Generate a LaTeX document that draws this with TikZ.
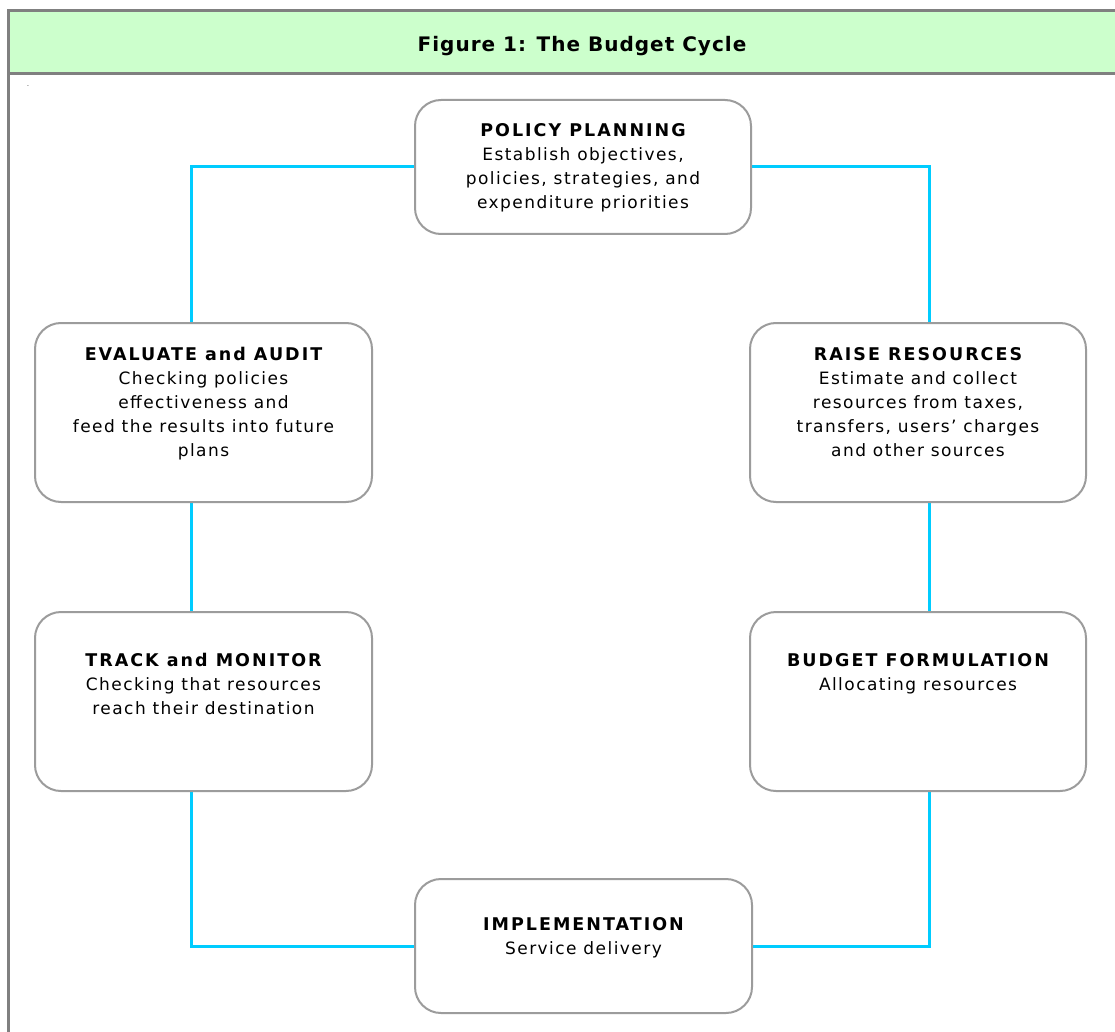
\documentclass[tikz,border=0pt]{standalone}
\usepackage{fontspec}
\setmainfont{DejaVu Sans}
\newfontfamily\boxbody[LetterSpace=8.5]{DejaVu Sans}
\newfontfamily\boxhead[LetterSpace=11.5]{DejaVu Sans}
\newfontfamily\titlefont[LetterSpace=5]{DejaVu Sans}
\newcommand{\hd}[1]{{\boxhead\bfseries\fontsize{17.5}{24}\selectfont #1}}
\usetikzlibrary{backgrounds}
\definecolor{hdrgreen}{HTML}{CCFFCC}
\definecolor{framegray}{HTML}{808080}
\definecolor{boxgray}{HTML}{9C9C9C}
\definecolor{linkcyan}{HTML}{00CCFF}
\tikzset{
  frameline/.style={draw=framegray, line width=3pt},
  stagebox/.style={draw=boxgray, line width=2pt, fill=white, rounded corners=26pt, inner sep=0pt},
  stagetext/.style={anchor=north, align=center, inner sep=0pt, font=\boxbody\fontsize{17}{24}\selectfont},
  link/.style={draw=linkcyan, line width=3pt},
}
\begin{document}
\begin{tikzpicture}[x=1pt,y=-1pt]
\useasboundingbox (0,0) rectangle (1115,1032);
\begin{pgfonlayer}{background}
\fill[white] (0,0) rectangle (1115,1032);
\end{pgfonlayer}
% header and frame
\fill[hdrgreen] (8,11) rectangle (1116,74);
\draw[frameline] (1117,11) -- (8,11) -- (8,1034);
\draw[frameline] (8,74) -- (1117,74);
\node[anchor=base, inner sep=0pt, font=\titlefont\bfseries\fontsize{20}{24}\selectfont] (title) at (582,52) {Figure 1: The Budget Cycle};
\node[inner sep=0pt, font=\fontsize{6}{6}\selectfont] (dot) at (28,86) {.};

% boxes
\node[stagebox, minimum width=336pt, minimum height=134pt] (pol) at (583,167) {};
\node[stagebox, minimum width=337pt, minimum height=179pt] (eva) at (203.5,412.5) {};
\node[stagebox, minimum width=336pt, minimum height=179pt] (ras) at (918,412.5) {};
\node[stagebox, minimum width=337pt, minimum height=179pt] (trk) at (203.5,701.5) {};
\node[stagebox, minimum width=336pt, minimum height=179pt] (bud) at (918,701.5) {};
\node[stagebox, minimum width=337pt, minimum height=134pt] (imp) at (583.5,946) {};

% texts
\node[stagetext] (polt) at (583,123) {\hd{POLICY PLANNING}\\Establish objectives,\\policies, strategies, and\\expenditure priorities};
\node[stagetext] (evat) at (203.5,347) {\hd{EVALUATE and AUDIT}\\Checking policies\\effectiveness and\\feed the results into future\\plans};
\node[stagetext] (rast) at (918,347) {\hd{RAISE RESOURCES}\\Estimate and collect\\resources from taxes,\\transfers, users’ charges\\and other sources};
\node[stagetext] (trkt) at (203.5,653) {\hd{TRACK and MONITOR}\\Checking that resources\\reach their destination};
\node[stagetext] (budt) at (918,653) {\hd{BUDGET FORMULATION}\\Allocating resources};
\node[stagetext] (impt) at (583.5,917) {\hd{IMPLEMENTATION}\\Service delivery};

% connectors
\coordinate (L) at (191,0);
\coordinate (R) at (929,0);
\begin{pgfonlayer}{background}
\draw[link] (pol.west) -| (L |- eva.north);
\draw[link] (pol.east) -| (R |- ras.north);
\draw[link] (L |- eva.south) -- (L |- trk.north);
\draw[link] (R |- ras.south) -- (R |- bud.north);
\draw[link] (L |- trk.south) |- (imp.west);
\draw[link] (R |- bud.south) |- (imp.east);
\end{pgfonlayer}
\end{tikzpicture}
\end{document}
